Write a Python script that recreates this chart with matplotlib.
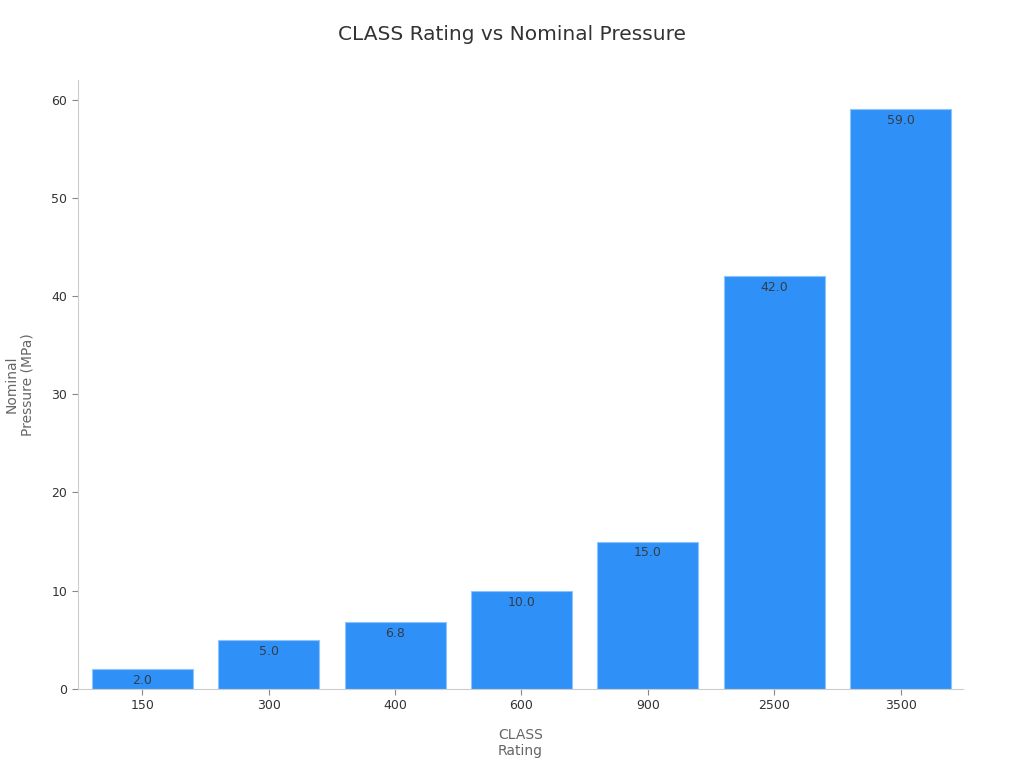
import matplotlib.pyplot as plt
import numpy as np

classes = ['150', '300', '400', '600', '900', '2500', '3500']
pressure = [2.0, 5.0, 6.8, 10.0, 15.0, 42.0, 59.0]

fig = plt.figure(figsize=(10.24, 7.68), dpi=100)
ax = fig.add_axes([0.076, 0.103, 0.864, 0.793])

x = np.arange(len(classes))
bars = ax.bar(x, pressure, width=0.8, color='#2f91f7', edgecolor='#8cc4fb', linewidth=0.8)

for rect, v in zip(bars, pressure):
    ax.annotate('{:.1f}'.format(v),
                xy=(rect.get_x() + rect.get_width() / 2, v),
                xytext=(0, -3.5), textcoords='offset points',
                ha='center', va='top', size=9, color='#333d4a')

ax.set_xlim(-0.51, 6.49)
ax.set_ylim(0, 62)
ax.set_xticks(x)
ax.set_xticklabels(classes)
ax.set_yticks([0, 10, 20, 30, 40, 50, 60])
ax.tick_params(labelsize=9, length=4, colors='#888888', labelcolor='#333333')

for s in ['top', 'right']:
    ax.spines[s].set_visible(False)
for s in ['left', 'bottom']:
    ax.spines[s].set_color('#cccccc')

ax.set_xlabel('CLASS\nRating', fontsize=10, color='#666666', labelpad=11)
ax.set_ylabel('Nominal\nPressure (MPa)', fontsize=10, color='#666666', labelpad=12)
fig.suptitle('CLASS Rating vs Nominal Pressure', fontsize=14.5, color='#333333', y=0.968)

plt.savefig('out.png', dpi=100)
